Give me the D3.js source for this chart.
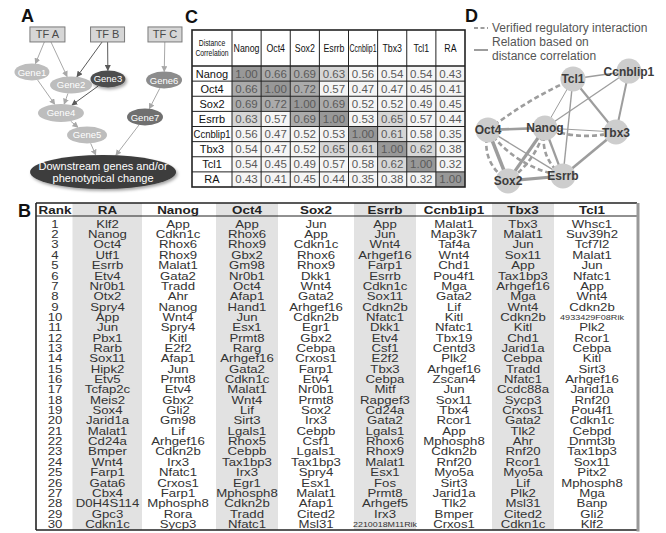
<!DOCTYPE html>
<html>
<head>
<meta charset="utf-8">
<script src="https://cdn.jsdelivr.net/npm/d3@7/dist/d3.min.js"></script>
<style>
  body { margin: 0; background: #fff; }
  svg { display: block; }
</style>
</head>
<body>
<div id="chart"></div>
<script>
// ---- data ----
// panel A: toy regulatory cascade
var flowNodes = ["TF A", "TF B", "TF C", "Gene1", "Gene2", "Gene3", "Gene6", "Gene4", "Gene7", "Gene5", "Downstream"];
var flowLinks = [["TF A","Gene1"], ["TF A","Gene2"], ["TF B","Gene2"], ["TF B","Gene3"], ["TF C","Gene6"],
                 ["Gene1","Gene4"], ["Gene2","Gene4"], ["Gene3","Gene4"], ["Gene6","Gene7"],
                 ["Gene4","Gene5"], ["Gene5","Downstream"], ["Gene7","Downstream"]];

// panel C: distance correlation matrix
var corrGenes = ["Nanog", "Oct4", "Sox2", "Esrrb", "Ccnblip1", "Tbx3", "Tcl1", "RA"];
var corrNanog    = [1.00, 0.66, 0.69, 0.63, 0.56, 0.54, 0.54, 0.43];
var corrOct4     = [0.66, 1.00, 0.72, 0.57, 0.47, 0.47, 0.45, 0.41];
var corrSox2     = [0.69, 0.72, 1.00, 0.69, 0.52, 0.52, 0.49, 0.45];
var corrEsrrb    = [0.63, 0.57, 0.69, 1.00, 0.53, 0.65, 0.57, 0.44];
var corrCcnblip1 = [0.56, 0.47, 0.52, 0.53, 1.00, 0.61, 0.58, 0.35];
var corrTbx3     = [0.54, 0.47, 0.52, 0.65, 0.61, 1.00, 0.62, 0.38];
var corrTcl1     = [0.54, 0.45, 0.49, 0.57, 0.58, 0.62, 1.00, 0.32];
var corrRA       = [0.43, 0.41, 0.45, 0.44, 0.35, 0.38, 0.32, 1.00];
var corrRows = [corrNanog, corrOct4, corrSox2, corrEsrrb, corrCcnblip1, corrTbx3, corrTcl1, corrRA];

// panel D: network
var netGenes = ["Tcl1", "Ccnblip1", "Oct4", "Nanog", "Tbx3", "Sox2", "Esrrb"];
var verifiedLinks = [["Oct4","Tcl1"], ["Oct4","Sox2"], ["Nanog","Sox2"], ["Nanog","Esrrb"], ["Nanog","Tbx3"], ["Oct4","Esrrb"]];
var corrCutoff = 0.54;

// panel B: top 30 ranked genes
var ranks = [1,2,3,4,5,6,7,8,9,10,11,12,13,14,15,16,17,18,19,20,21,22,23,24,25,26,27,28,29,30];
var rankCols = ["RA", "Nanog", "Oct4", "Sox2", "Esrrb", "Ccnb1ip1", "Tbx3", "Tcl1"];
var topRA = ["Klf2","Nanog","Oct4","Utf1","Esrrb","Etv4","Nr0b1","Otx2","Spry4","App","Jun","Pbx1","Rarb","Sox11","Hipk2",
  "Etv5","Tcfap2c","Meis2","Sox4","Jarid1a","Malat1","Cd24a","Bmper","Wnt4","Farp1","Gata6","Cbx4","D0H4S114","Gpc3","Cdkn1c"];
var topNanog = ["App","Cdkn1c","Rhox6","Rhox9","Malat1","Gata2","Tradd","Ahr","Nanog","Wnt4","Spry4","Kitl","E2f2","Afap1","Jun",
  "Prmt8","Etv4","Gbx2","Gli2","Gm98","Lif","Arhgef16","Cdkn2b","Irx3","Nfatc1","Crxos1","Farp1","Mphosph8","Rora","Sycp3"];
var topOct4 = ["App","Rhox6","Rhox9","Gbx2","Gm98","Nr0b1","Oct4","Afap1","Hand1","Jun","Esx1","Prmt8","Rarg","Arhgef16","Gata2",
  "Cdkn1c","Malat1","Wnt4","Lif","Sirt3","Lgals1","Rhox5","Cebpb","Tax1bp3","Irx3","Egr1","Mphosph8","Cdkn2b","Tradd","Nfatc1"];
var topSox2 = ["Jun","App","Cdkn1c","Rhox6","Rhox9","Dkk1","Wnt4","Gata2","Arhgef16","Cdkn2b","Egr1","Gbx2","Cebpa","Crxos1","Farp1",
  "Etv4","Nr0b1","Prmt8","Sox2","Irx3","Cebpb","Csf1","Lgals1","Tax1bp3","Spry4","Esx1","Malat1","Afap1","Cited2","Msl31"];
var topEsrrb = ["App","Jun","Wnt4","Arhgef16","Farp1","Esrrb","Cdkn1c","Sox11","Cdkn2b","Nfatc1","Dkk1","Etv4","Csf1","E2f2","Tbx3",
  "Cebpa","Mitf","Rapgef3","Cd24a","Gata2","Lgals1","Rhox6","Rhox9","Malat1","Esx1","Fos","Prmt8","Arhgef5","Irx3","2210018M11Rik"];
var topCcnb1ip1 = ["Malat1","Map3k7","Taf4a","Wnt4","Chd1","Pou4f1","Mga","Gata2","Lif","Kitl","Nfatc1","Tbx19","Centd3","Plk2","Arhgef16",
  "Zscan4","Jun","Sox11","Tbx4","Rcor1","App","Mphosph8","Cdkn2b","Rnf20","Myo5a","Sirt3","Jarid1a","Tlk2","Bmper","Crxos1"];
var topTbx3 = ["Tbx3","Malat1","Jun","Sox11","App","Tax1bp3","Arhgef16","Mga","Wnt4","Cdkn2b","Kitl","Chd1","Jarid1a","Cebpa","Tradd",
  "Nfatc1","Ccdc88a","Sycp3","Crxos1","Gata2","Tlk2","Ahr","Rnf20","Rcor1","Myo5a","Lif","Plk2","Msl31","Cited2","Cdkn1c"];
var topTcl1 = ["Whsc1","Suv39h2","Tcf7l2","Malat1","Jun","Nfatc1","App","Wnt4","Cdkn2b","4933429F08Rik","Plk2","Rcor1","Cebpa","Kitl","Sirt3",
  "Arhgef16","Jarid1a","Rnf20","Pou4f1","Cdkn1c","Cebpd","Dnmt3b","Tax1bp3","Sox11","Pitx2","Mphosph8","Mga","Banp","Gli2","Klf2"];
var topLists = [topRA, topNanog, topOct4, topSox2, topEsrrb, topCcnb1ip1, topTbx3, topTcl1];

// ---- layout ----
var W = 666, H = 533;
var svg = d3.select("#chart").append("svg")
  .attr("width", W).attr("height", H)
  .style("font-family", '"Liberation Sans", Arial, Helvetica, sans-serif');

var defs = svg.append("defs");
defs.append("filter").attr("id", "shadow").attr("x", "-30%").attr("y", "-30%").attr("width", "160%").attr("height", "170%")
  .append("feDropShadow").attr("dx", 1.5).attr("dy", 2).attr("stdDeviation", 1.8)
  .attr("flood-color", "#000").attr("flood-opacity", 0.35);
["#a8a8a8", "#5a5a5a"].forEach(function(c, i) {
  defs.append("marker").attr("id", "arr" + i)
    .attr("viewBox", "0 0 10 10").attr("refX", 9).attr("refY", 5)
    .attr("markerUnits", "userSpaceOnUse").attr("markerWidth", 6).attr("markerHeight", 6)
    .attr("orient", "auto")
    .append("path").attr("d", "M0,0 L10,5 L0,10 z").attr("fill", c);
});

// panel letters
[["A", 21, 22], ["B", 18, 217], ["C", 185, 23], ["D", 465, 22]].forEach(function(p) {
  svg.append("text").attr("x", p[1]).attr("y", p[2]).text(p[0])
    .attr("font-size", 18).attr("font-weight", "bold").attr("fill", "#111");
});

// squeeze / stretch a text horizontally around its anchor
function placeText(sel, x, y, sx) {
  sel.attr("x", 0).attr("y", 0).attr("transform", "translate(" + x + "," + y + ") scale(" + sx + ",1)");
}
function fitScale(node, maxW, sx) {
  var w = node.getComputedTextLength();
  return Math.min(sx, maxW / w);
}

// ================= Panel A =================
var ax = d3.scaleLinear().domain([0, 100]).range([10, 190]),
    ay = d3.scaleLinear().domain([0, 100]).range([20, 190]);
var flowLayout = {
  "TF A":  {x: 20.8, y: 8.5, shape: "box", w: 35, h: 15},
  "TF B":  {x: 54.2, y: 8.5, shape: "box", w: 34, h: 15},
  "TF C":  {x: 86.1, y: 8.5, shape: "box", w: 34, h: 15},
  "Gene1": {x: 12.2, y: 30.6, rx: 17.5, ry: 8.5, fill: "#bdbdbd"},
  "Gene2": {x: 33.9, y: 38.2, rx: 21, ry: 8.5, fill: "#bdbdbd"},
  "Gene3": {x: 54.4, y: 34.7, rx: 17.5, ry: 8.5, fill: "#4d4d4d", shadow: true},
  "Gene6": {x: 85.6, y: 35.3, rx: 18, ry: 8.5, fill: "#8c8c8c"},
  "Gene4": {x: 28.3, y: 54.7, rx: 23, ry: 9, fill: "#bdbdbd"},
  "Gene7": {x: 75.0, y: 57.1, rx: 18, ry: 8.5, fill: "#707070"},
  "Gene5": {x: 42.8, y: 67.6, rx: 20, ry: 8.5, fill: "#bdbdbd"},
  "Downstream": {x: 51.7, y: 89.4, rx: 73, ry: 17, fill: "#3d3d3d", shadow: true}
};
function boundary(n, tx, ty) {
  var cx = ax(n.x), cy = ay(n.y), dx = tx - cx, dy = ty - cy, t;
  if (n.shape === "box") t = Math.min((n.w / 2) / Math.max(Math.abs(dx), 1e-6), (n.h / 2) / Math.max(Math.abs(dy), 1e-6));
  else t = 1 / Math.sqrt(Math.pow(dx / n.rx, 2) + Math.pow(dy / n.ry, 2));
  return [cx + dx * t, cy + dy * t];
}
var gA = svg.append("g");
flowLinks.forEach(function(l) {
  var s = flowLayout[l[0]], t = flowLayout[l[1]];
  var p0 = boundary(s, ax(t.x), ay(t.y)), p1 = boundary(t, ax(s.x), ay(s.y));
  var dark = (l[0] === "TF B" || l[0] === "Gene3") ? 1 : 0;
  gA.append("line")
    .attr("x1", p0[0]).attr("y1", p0[1]).attr("x2", p1[0]).attr("y2", p1[1])
    .attr("stroke", dark ? "#5a5a5a" : "#a8a8a8").attr("stroke-width", 1)
    .attr("marker-end", "url(#arr" + dark + ")");
});
flowNodes.forEach(function(name) {
  var n = flowLayout[name], cx = ax(n.x), cy = ay(n.y);
  if (n.shape === "box") {
    gA.append("rect").attr("x", cx - n.w / 2).attr("y", cy - n.h / 2).attr("width", n.w).attr("height", n.h)
      .attr("fill", "#d6d6d6").attr("stroke", "#7a7a7a").attr("stroke-width", 1);
    gA.append("text").attr("x", cx).attr("y", cy + 4).attr("text-anchor", "middle")
      .attr("font-size", 11).attr("fill", "#4a4a4a").text(name);
  } else {
    gA.append("ellipse").attr("cx", cx).attr("cy", cy).attr("rx", n.rx).attr("ry", n.ry)
      .attr("fill", n.fill).attr("filter", n.shadow ? "url(#shadow)" : null);
    if (name === "Downstream") {
      gA.append("text").attr("x", cx).attr("y", cy - 2).attr("text-anchor", "middle")
        .attr("font-size", 11).attr("fill", "#fff").text("Downstream genes and/or");
      gA.append("text").attr("x", cx).attr("y", cy + 10.5).attr("text-anchor", "middle")
        .attr("font-size", 11).attr("fill", "#fff").text("phenotypical change");
    } else {
      gA.append("text").attr("x", cx).attr("y", cy + 3.5).attr("text-anchor", "middle")
        .attr("font-size", 9.5).attr("fill", "#fff").text(name);
    }
  }
});

// ================= Panel C =================
var gC = svg.append("g");
var cLeft = 192, cTop = 30, cHead = 66;
var cxs = d3.scaleBand().domain(corrGenes).range([232, 465]);
var cys = d3.scaleBand().domain(corrGenes).range([cHead, 187]);
var cellFill = d3.scaleThreshold().domain([0.60, 0.66, 0.99]).range(["#f5f5f5", "#d6d6d6", "#ababab", "#989898"]);
var fmt = d3.format(".2f");

gC.append("rect").attr("x", cLeft).attr("y", cTop).attr("width", 465 - cLeft).attr("height", 187 - cTop).attr("fill", "#fff");
corrGenes.forEach(function(rg, i) {
  corrRows[i].forEach(function(v, j) {
    var cg = corrGenes[j];
    gC.append("rect").attr("x", cxs(cg)).attr("y", cys(rg))
      .attr("width", cxs.bandwidth()).attr("height", cys.bandwidth()).attr("fill", cellFill(v));
    gC.append("text").attr("x", cxs(cg) + cxs.bandwidth() / 2).attr("y", cys(rg) + cys.bandwidth() / 2 + 4)
      .attr("text-anchor", "middle").attr("font-size", 11.5).attr("fill", "#5a5a5a").text(fmt(v));
  });
  // row label
  var rl = gC.append("text").attr("text-anchor", "middle").attr("font-size", 11).attr("fill", "#111").text(rg);
  placeText(rl, (cLeft + 232) / 2, cys(rg) + cys.bandwidth() / 2 + 4, fitScale(rl.node(), 37, 1));
  // column header
  var ch = gC.append("text").attr("text-anchor", "middle").attr("font-size", 11).attr("fill", "#111").text(rg);
  placeText(ch, cxs(rg) + cxs.bandwidth() / 2, 52, fitScale(ch.node(), cxs.bandwidth() - 2, 0.8));
});
["Distance", "Correlation"].forEach(function(t, i) {
  var hd = gC.append("text").attr("text-anchor", "middle").attr("font-size", 8.5).attr("fill", "#111").text(t);
  placeText(hd, (cLeft + 232) / 2, 46 + i * 10, fitScale(hd.node(), 36, 0.8));
});
// grid
corrGenes.forEach(function(g) {
  gC.append("line").attr("x1", cxs(g)).attr("x2", cxs(g)).attr("y1", cTop).attr("y2", 187).attr("stroke", "#222").attr("stroke-width", 1);
  gC.append("line").attr("x1", cLeft).attr("x2", 465).attr("y1", cys(g)).attr("y2", cys(g)).attr("stroke", "#222")
    .attr("stroke-width", g === corrGenes[0] ? 1.6 : 1);
});
gC.append("rect").attr("x", cLeft).attr("y", cTop).attr("width", 465 - cLeft).attr("height", 187 - cTop)
  .attr("fill", "none").attr("stroke", "#222").attr("stroke-width", 1.6);

// ================= Panel D =================
var gD = svg.append("g");
var dx = d3.scaleLinear().domain([0, 100]).range([480, 650]),
    dy = d3.scaleLinear().domain([0, 100]).range([60, 190]);
var netLayout = {
  Tcl1: [54.7, 14.6], Ccnblip1: [87.6, 8.5], Oct4: [4.7, 53.8], Nanog: [38.2, 52.3],
  Tbx3: [80, 55.4], Sox2: [16.5, 93], Esrrb: [48.8, 89.2]
};
var bendOf = {"Oct4-Tcl1": -0.06, "Oct4-Sox2": 0.35, "Nanog-Sox2": -0.18, "Nanog-Esrrb": 0.32, "Nanog-Tbx3": 0.16, "Oct4-Esrrb": 0.2};
var edgeColor = "#9d9d9d";
var widthScale = d3.scaleLinear().domain([0.54, 0.72]).range([1, 3.6]);
function pos(g) { return [dx(netLayout[g][0]), dy(netLayout[g][1])]; }

// legend
gD.append("line").attr("x1", 474).attr("x2", 488).attr("y1", 28).attr("y2", 28)
  .attr("stroke", edgeColor).attr("stroke-width", 2).attr("stroke-dasharray", "4,2.5");
gD.append("text").attr("x", 492).attr("y", 32).attr("font-size", 12).attr("fill", "#555").text("Verified regulatory interaction");
gD.append("line").attr("x1", 474).attr("x2", 488).attr("y1", 50).attr("y2", 50)
  .attr("stroke", edgeColor).attr("stroke-width", 2);
gD.append("text").attr("x", 492).attr("y", 46).attr("font-size", 12).attr("fill", "#555").text("Relation based on");
gD.append("text").attr("x", 492).attr("y", 60).attr("font-size", 12).attr("fill", "#555").text("distance correlation");

// correlation edges from the matrix
netGenes.forEach(function(a, i) {
  netGenes.forEach(function(b, j) {
    if (j <= i) return;
    var v = corrRows[corrGenes.indexOf(a)][corrGenes.indexOf(b)];
    if (v < corrCutoff) return;
    var p = pos(a), q = pos(b);
    gD.append("line").attr("x1", p[0]).attr("y1", p[1]).attr("x2", q[0]).attr("y2", q[1])
      .attr("stroke", edgeColor).attr("stroke-width", widthScale(v));
  });
});
// verified interactions
verifiedLinks.forEach(function(l) {
  var p = pos(l[0]), q = pos(l[1]), b = bendOf[l[0] + "-" + l[1]] || 0;
  var mx = (p[0] + q[0]) / 2 - (q[1] - p[1]) * b, my = (p[1] + q[1]) / 2 + (q[0] - p[0]) * b;
  gD.append("path").attr("d", "M" + p[0] + "," + p[1] + " Q" + mx + "," + my + " " + q[0] + "," + q[1])
    .attr("fill", "none").attr("stroke", edgeColor).attr("stroke-width", 2.6).attr("stroke-dasharray", "5,3");
});
netGenes.forEach(function(g) {
  var p = pos(g);
  gD.append("circle").attr("cx", p[0]).attr("cy", p[1]).attr("r", 12.5).attr("fill", "#cdcdcd");
});
netGenes.forEach(function(g) {
  var p = pos(g);
  gD.append("text").attr("x", p[0]).attr("y", p[1] + 4.5).attr("text-anchor", "middle")
    .attr("font-size", 12).attr("font-weight", "bold").attr("fill", "#3c3c3c").text(g);
});

// ================= Panel B =================
var gB = svg.append("g");
var bLeft = 36, bRight = 637, bTop = 203, bHeadLine = 216, bBottom = 530;
var bx = d3.scaleBand().domain(rankCols.slice(1)).range([143.5, 626.5]);
var by = d3.scaleBand().domain(ranks).range([219, 529.5]);
var raBand = [72, 143], rankBand = [bLeft, 72];
function colCenter(c) {
  if (c === "Rank") return (rankBand[0] + rankBand[1]) / 2 + 1;
  if (c === "RA") return (raBand[0] + raBand[1]) / 2;
  return bx(c) + bx.bandwidth() / 2;
}
var stretch = 1.32;

// shaded columns
rankCols.forEach(function(c, i) {
  if (i % 2 !== 0) return;
  var x0 = c === "RA" ? raBand[0] + 0.5 : colCenter(c) - 31;
  var x1 = c === "RA" ? raBand[1] - 1 : colCenter(c) + 31;
  gB.append("rect").attr("x", x0).attr("y", bTop).attr("width", x1 - x0).attr("height", bBottom - bTop).attr("fill", "#e2e2e2");
});
// header
["Rank"].concat(rankCols).forEach(function(c) {
  var t = gB.append("text").attr("text-anchor", "middle").attr("font-size", 11).attr("font-weight", "bold")
    .attr("fill", "#222").text(c);
  placeText(t, colCenter(c), 214, 1.22);
});
// rank numbers
ranks.forEach(function(r) {
  var t = gB.append("text").attr("text-anchor", "middle").attr("font-size", 10).attr("fill", "#333").text(r);
  placeText(t, colCenter("Rank"), by(r) + by.bandwidth() / 2 + 3.6, stretch);
});
// gene names
rankCols.forEach(function(c, ci) {
  topLists[ci].forEach(function(name, ri) {
    var r = ranks[ri];
    var small = name.length > 10;
    var t = gB.append("text").attr("text-anchor", "middle").attr("font-size", small ? 7.5 : 10)
      .attr("fill", "#333").text(name);
    placeText(t, colCenter(c), by(r) + by.bandwidth() / 2 + (small ? 3 : 3.6), small ? fitScale(t.node(), 64, stretch) : stretch);
  });
});
// table lines
gB.append("line").attr("x1", bLeft).attr("x2", bRight).attr("y1", bTop).attr("y2", bTop).attr("stroke", "#222").attr("stroke-width", 1.6);
gB.append("line").attr("x1", bLeft).attr("x2", bRight).attr("y1", bHeadLine).attr("y2", bHeadLine).attr("stroke", "#222").attr("stroke-width", 1);
gB.append("line").attr("x1", bLeft).attr("x2", bRight).attr("y1", bBottom).attr("y2", bBottom).attr("stroke", "#222").attr("stroke-width", 1.6);
gB.append("line").attr("x1", bLeft).attr("x2", bLeft).attr("y1", bTop).attr("y2", bBottom).attr("stroke", "#222").attr("stroke-width", 1.6);
gB.append("line").attr("x1", bRight + 1).attr("x2", bRight + 1).attr("y1", bTop).attr("y2", bBottom + 1.5).attr("stroke", "#999").attr("stroke-width", 3);
</script>
</body>
</html>
